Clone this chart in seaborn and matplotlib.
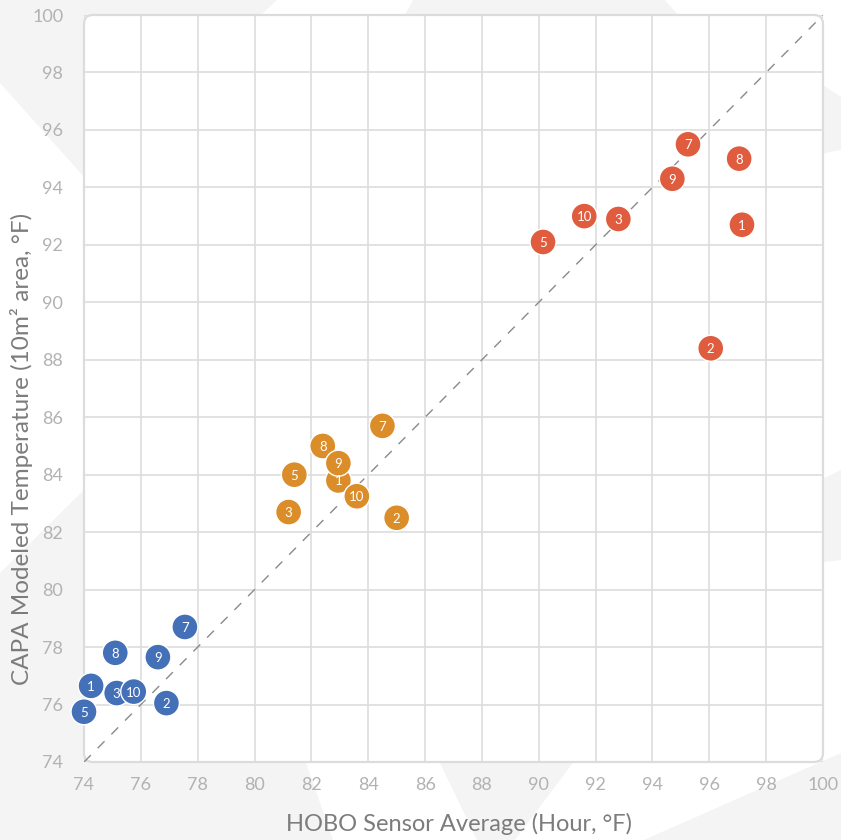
import matplotlib
matplotlib.use("Agg")
import matplotlib.pyplot as plt
from matplotlib.patches import Polygon, FancyBboxPatch
import seaborn as sns
import pandas as pd

# ---- data ----
labels = [1, 2, 3, 5, 7, 8, 9, 10]
blue_x = [74.25, 76.9, 75.15, 74.0, 77.55, 75.1, 76.6, 75.75]
blue_y = [76.65, 76.05, 76.4, 75.75, 78.7, 77.8, 77.65, 76.45]
orange_x = [82.95, 85.0, 81.2, 81.4, 84.5, 82.4, 82.95, 83.6]
orange_y = [83.8, 82.5, 82.7, 84.0, 85.7, 85.0, 84.4, 83.25]
red_x = [97.15, 96.05, 92.8, 90.15, 95.25, 97.05, 94.7, 91.6]
red_y = [92.7, 88.4, 92.9, 92.1, 95.5, 95.0, 94.3, 93.0]
groups = ["blue", "orange", "red"]
palette = {"blue": "#4470B8", "orange": "#DA8D28", "red": "#E05C3E"}
x_ticks = list(range(74, 101, 2))
y_ticks = list(range(74, 101, 2))
x_label = "HOBO Sensor Average (Hour, °F)"
y_label = "CAPA Modeled Temperature (10m² area, °F)"

rows = []
for g, xs, ys in zip(groups, [blue_x, orange_x, red_x], [blue_y, orange_y, red_y]):
    for l, x, y in zip(labels, xs, ys):
        rows.append({"group": g, "label": l, "x": x, "y": y})
df = pd.DataFrame(rows)

sns.set_style("white")
plt.rcParams["font.family"] = ["Lato", "DejaVu Sans"]

W, H = 841, 840
fig = plt.figure(figsize=(W / 100, H / 100), dpi=100)
fig.patch.set_facecolor("white")

# decorative background shapes (pixel coords, origin top-left)
bg = "#F4F4F4"
shapes = [
    [(0, 0), (277, 0), (85, 178), (0, 83)],
    [(0, 573), (178, 397), (298, 740), (333, 840), (0, 840)],
    [(413, 0), (665, 0), (700, 40), (380, 60)],
    [(400, 700), (620, 700), (590, 740), (515, 840), (477, 840), (429, 740)],
    [(841, 753), (841, 840), (644, 840)],
    [(800, 70), (841, 97), (841, 150), (800, 158)],
    [(800, 490), (841, 470), (841, 560), (800, 565)],
]
for s in shapes:
    fig.patches.append(Polygon([(x / W, 1 - y / H) for x, y in s], closed=True,
                               transform=fig.transFigure, fc=bg, ec="none", zorder=-10))

ax = fig.add_axes([84 / W, 78 / H, 739 / W, 747 / H])
ax.set_zorder(1)
ax.patch.set_visible(False)
ax.add_patch(FancyBboxPatch((0, 0), 1, 1, boxstyle="round,pad=0,rounding_size=0.012",
                            transform=ax.transAxes, fc="white", ec="#DCDCDC", lw=1.6,
                            clip_on=False, zorder=0.1))
for sp in ax.spines.values():
    sp.set_visible(False)

ax.set_xlim(74, 100)
ax.set_ylim(74, 100)
ax.set_xticks(x_ticks)
ax.set_yticks(y_ticks)
ax.set_axisbelow(True)
ax.grid(True, color="#DDDDDD", lw=1.2)
ax.tick_params(axis="x", length=0, pad=11, labelsize=13, labelcolor="#B2B2B2")
ax.tick_params(axis="y", length=0, pad=15, labelsize=13, labelcolor="#B2B2B2")

ax.plot([74, 100], [74, 100], ls=(0, (7, 7)), color="#8A8A8A", lw=1.0, zorder=1)

sns.scatterplot(data=df, x="x", y="y", hue="group", palette=palette, s=350,
                edgecolor="white", linewidth=1.0, legend=False, ax=ax, zorder=3,
                clip_on=False)
for _, r in df.iterrows():
    ax.text(r["x"], r["y"], str(r["label"]), ha="center", va="center_baseline",
            color="white", fontsize=9.5, zorder=4)

ax.set_xlabel(x_label, fontsize=17, color="#7C7C7C")
ax.set_ylabel(y_label, fontsize=17.5, color="#7C7C7C")
ax.xaxis.set_label_coords((459 - 84) / 739, -(824 - 762) / 747)
ax.yaxis.set_label_coords(-(84 - 22) / 739, (762 - 449) / 747)
ax.xaxis.label.set_va("center")
ax.yaxis.label.set_va("center")

fig.savefig("out.png", dpi=100, facecolor=fig.get_facecolor())
